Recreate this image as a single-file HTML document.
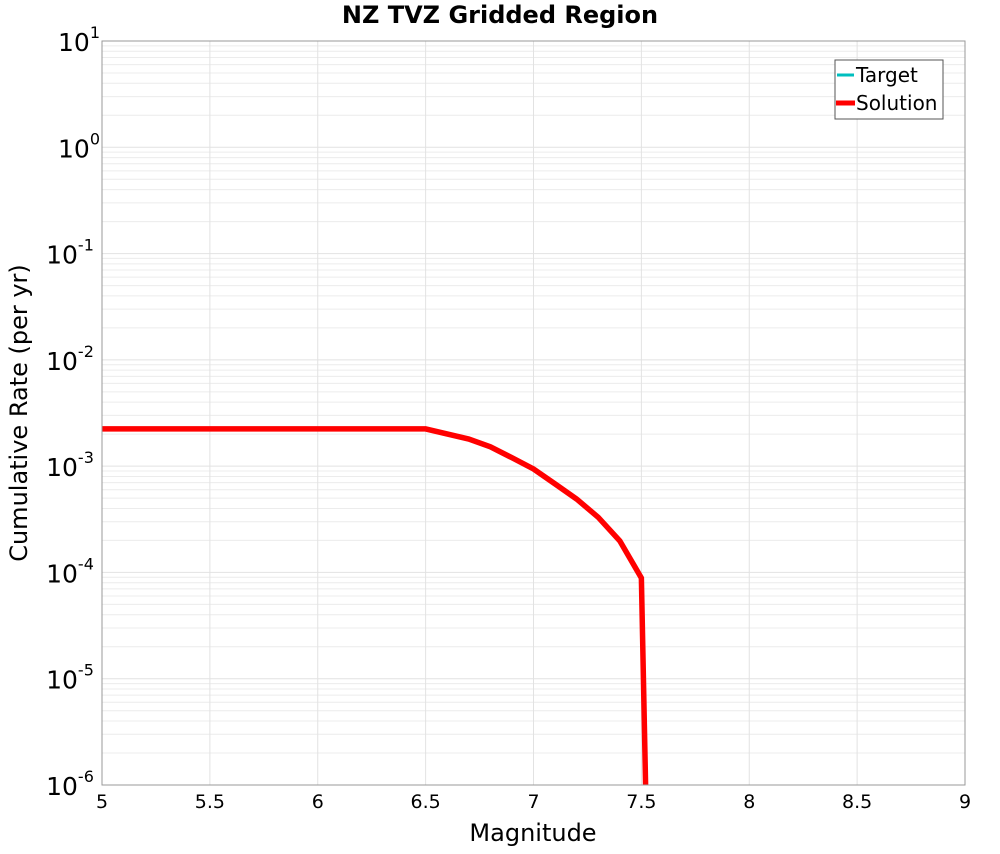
<!DOCTYPE html>
<html><head><meta charset="utf-8"><style>
body{margin:0;background:#fff;font-family:"DejaVu Sans","Liberation Sans",sans-serif}
</style></head><body>
<svg id="chart" width="1000" height="850" xmlns="http://www.w3.org/2000/svg" font-family="DejaVu Sans, Liberation Sans, sans-serif">
<rect width="1000" height="850" fill="#fff"/>
<g id="grid"></g>
<g id="series"></g>
<rect x="102" y="41" width="863" height="744" fill="none" stroke="#999" stroke-width="1"/>
<g id="ticks"></g>
<text x="500" y="23" text-anchor="middle" font-size="24" font-weight="bold">NZ TVZ Gridded Region</text>
<text x="533" y="841" text-anchor="middle" font-size="24">Magnitude</text>
<text transform="translate(27,413) rotate(-90)" text-anchor="middle" font-size="24">Cumulative Rate (per yr)</text>
<g>
<rect x="835" y="60" width="108" height="59" fill="#fff" stroke="#555" stroke-width="1"/>
<line x1="837" y1="75" x2="854" y2="75" stroke="#00bfbf" stroke-width="3"/>
<text x="856" y="82" font-size="20">Target</text>
<line x1="836" y1="103" x2="855" y2="103" stroke="#f00" stroke-width="5"/>
<text x="856" y="110" font-size="20">Solution</text>
</g>
</svg>
<script>
const mags=[5.0,6.5,6.7,6.8,6.9,7.0,7.1,7.2,7.3,7.4,7.5,7.52];
const solution=[0.00224,0.00224,0.0018,0.00152,0.0012,0.00094,0.00068,0.00049,0.00033,0.000198,0.0000887,0.0000009];
const xTicks=[5,5.5,6,6.5,7,7.5,8,8.5,9];
const yExps=[1,0,-1,-2,-3,-4,-5,-6];
const X0=102,X1=965,Y0=41,Y1=785;
const xs=m=>X0+(m-5)/4*(X1-X0);
const ys=v=>Y0+(1-Math.log10(v))/7*(Y1-Y0);
const NS="http://www.w3.org/2000/svg";
function mk(t,a,p){const e=document.createElementNS(NS,t);for(const k in a)e.setAttribute(k,a[k]);p.appendChild(e);return e;}
const grid=document.getElementById('grid'),ticks=document.getElementById('ticks'),series=document.getElementById('series');
for(let e=-6;e<1;e++){for(let k=1;k<10;k++){const y=ys(k*Math.pow(10,e));
const l=mk('line',{x1:X0,x2:X1,y1:y,y2:y,stroke:k==1?'#e2e2e2':'#ececec','stroke-width':1},grid);

}}
xTicks.forEach(t=>{const x=xs(t);
const l=mk('line',{x1:x,x2:x,y1:Y0,y2:Y1,stroke:'#e2e2e2','stroke-width':1},grid);


const tx=mk('text',{x:x,y:808,'text-anchor':'middle','font-size':19},ticks);


tx.textContent=String(t);});
yExps.forEach(e=>{const y=ys(Math.pow(10,e));
const tx=mk('text',{x:92,y:y+10,'text-anchor':'end','font-size':25},ticks);


tx.textContent='10';
const sp=mk('tspan',{dy:-13,'font-size':16},tx);sp.textContent=String(e);
tx.setAttribute('x',88-(String(e).length*9));
tx.setAttribute('text-anchor','middle');});
mk('clipPath',{id:'cp'},series).appendChild(document.createElementNS(NS,'rect'));
const cr=series.querySelector('#cp rect');cr.setAttribute('x',X0);cr.setAttribute('y',Y0);cr.setAttribute('width',X1-X0);cr.setAttribute('height',Y1-Y0);
const pl=mk('polyline',{points:mags.map((m,i)=>xs(m)+','+ys(solution[i])).join(' '),fill:'none',stroke:'#f00','stroke-width':5.5,'stroke-linejoin':'miter','clip-path':'url(#cp)'},series);


</script>
</body></html>
